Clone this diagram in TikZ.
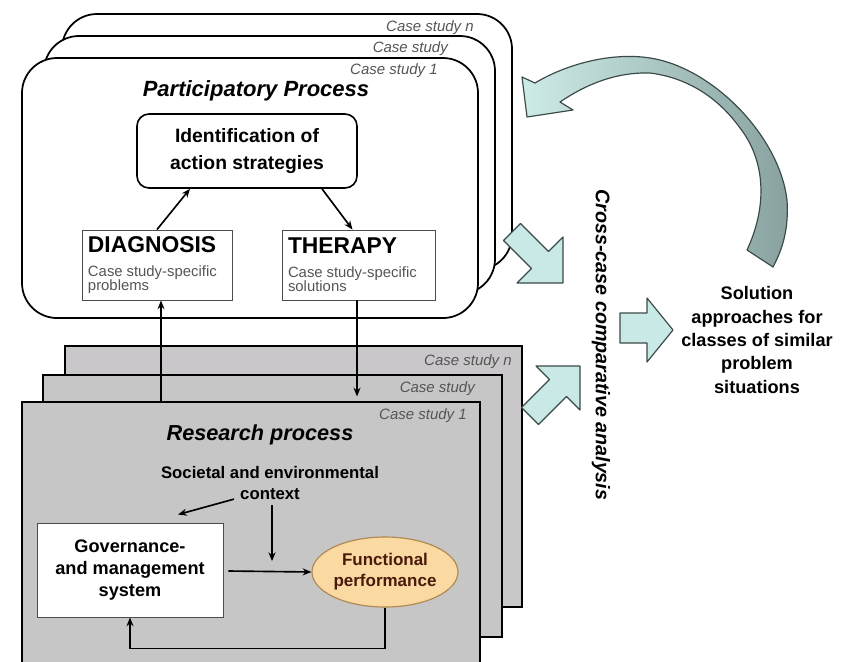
\documentclass[tikz,border=0pt]{standalone}
\usepackage{fontspec}
\setmainfont{Liberation Sans}
\usetikzlibrary{shapes.geometric,arrows.meta,calc}
\definecolor{fatfill}{HTML}{C8E9E5}
\definecolor{fatline}{HTML}{3A4A48}
\definecolor{cardgray}{HTML}{C6C6C6}
\definecolor{cardgrayb}{HTML}{C9C7C9}
\definecolor{labgray}{HTML}{555555}
\definecolor{ellfill}{HTML}{FAD9A2}
\definecolor{elldraw}{HTML}{B08A50}
\definecolor{elltext}{HTML}{4A1A0A}
\begin{document}
\begin{tikzpicture}[x=0.03cm,y=-0.03cm,
  pcard/.style={draw=black,line width=1.5pt,fill=white,rounded corners=1.05cm},
  rcard/.style={draw=black,line width=1.5pt,fill=cardgray},
  cslabel/.style={font=\itshape\fontsize{12.8}{14}\selectfont,text=labgray,anchor=east,inner sep=0pt},
  arr/.style={line width=1.4pt,-{Stealth[length=7.5pt,width=6pt]}},
  fat/.style={draw=fatline,line width=1pt,fill=fatfill,line join=round},
  boxtxt/.style={font=\bfseries\fontsize{15.5}{19}\selectfont,align=center}
]
\useasboundingbox (0,0) rectangle (843,661);

% participatory cards
\draw[pcard] (62,14) rectangle (512,270);
\node[cslabel] (pcn) at (474,28) {Case study \textit{n}};
\draw[pcard] (44,36) rectangle (495,294);
\node[cslabel] (pcm) at (448,49) {Case study};
\draw[pcard] (22,58) rectangle (478,318);
\node[cslabel] (pc1) at (438,71) {Case study 1};

\node[font=\bfseries\itshape\fontsize{18.8}{22}\selectfont] (ptitle) at (256,91) {Participatory Process};

\node[draw=black,line width=1.4pt,rounded corners=0.36cm,fill=white,
  minimum width=6.6cm,minimum height=2.22cm,
  font=\bfseries\fontsize{16.5}{23}\selectfont,align=center] (ident) at (247,151)
  {Identification of\\action strategies};

\node[draw=black!70,line width=0.8pt,fill=white,minimum height=2.1cm,
  text width=4.14cm,inner xsep=0.18cm,align=left] (diag) at (157,265)
  {{\bfseries\fontsize{19.5}{22}\selectfont DIAGNOSIS}\\[3pt]
   {\color{labgray}\fontsize{12.7}{17.5}\selectfont Case study-specific\\problems}};
\node[draw=black!70,line width=0.8pt,fill=white,minimum height=2.1cm,
  text width=4.23cm,inner xsep=0.18cm,align=left] (ther) at (358.5,265)
  {{\bfseries\fontsize{19.5}{22}\selectfont THERAPY}\\[3pt]
   {\color{labgray}\fontsize{12.7}{17.5}\selectfont Case study-specific\\solutions}};

\draw[arr] (diag.north) -- ($(ident.south)+(-57,0)$);
\draw[arr] ($(ident.south)+(75,0)$) -- ($(ther.north)+(-6,0)$);

% research cards
\draw[rcard,fill=cardgrayb] (65,346) rectangle (522,607);
\node[cslabel] (rcn) at (512,362) {Case study \textit{n}};
\draw[rcard] (43,375) rectangle (502,637);
\node[cslabel] (rcm) at (475,389) {Case study};
\draw[rcard] (22,402) rectangle (480,666);
\node[cslabel] (rc1) at (467,416) {Case study 1};
\coordinate (rtop) at (161,402);

\draw[arr] (rtop) -- (rtop |- diag.south);
\draw[arr] ($(ther.south)+(-1.5,0)$) -- ++(0,96);

\node[font=\bfseries\itshape\fontsize{18.5}{22}\selectfont] (rtitle) at (260,435) {Research process};

\node[font=\bfseries\fontsize{14.3}{18}\selectfont,align=center,inner sep=1pt] (ctx) at (270,483)
  {Societal and environmental\\context};

\node[draw=black!70,line width=0.8pt,fill=white,minimum width=5.58cm,minimum height=2.82cm,
  boxtxt] (gov) at (130,570) {Governance-\\and management\\system};

\node[ellipse,draw=elldraw,line width=1pt,fill=ellfill,minimum width=4.38cm,minimum height=2.1cm,
  font=\bfseries\fontsize{14.5}{18}\selectfont,text=elltext,align=center,inner sep=0pt] (fp) at (385,572)
  {Functional\\performance};

\draw[arr] ($(ctx.south)+(-36,-2)$) -- ($(gov.north)+(48,-8)$);
\draw[arr] ($(ctx.south)+(2,4)$) -- ++(0,56);
\draw[arr] ($(gov.east)+(5,1)$) -- (fp.west);
\draw[arr] (fp.south) -- ++(0,41) -| (gov.south);

% fat arrows
\draw[fat] (520.5,223.5) -- (548.5,251.5) -- (563,237) -- (563,283) -- (517,283) -- (531.5,268.5) -- (503.5,240.5) -- cycle;
\draw[fat] (521.5,407.5) -- (549.5,379.5) -- (536,366) -- (580,366) -- (580,410) -- (566.5,396.5) -- (538.5,424.5) -- cycle;
\draw[fat] (620,313) -- (647,313) -- (647,298) -- (673,330) -- (647,362) -- (647,343) -- (620,343) -- cycle;

% curved arrow
\draw[draw=fatline,line width=1pt,left color=fatfill!90!white,right color=fatline!45!fatfill,line join=round]
  (535,83) .. controls (570,62) and (620,50) .. (660,60)
  .. controls (720,75) and (780,140) .. (787,200)
  .. controls (789,230) and (782,250) .. (773,267)
  -- (747,250)
  .. controls (768,205) and (765,160) .. (740,128)
  .. controls (720,100) and (690,78) .. (650,73)
  .. controls (615,72) and (585,85) .. (560,102)
  -- (573,110) -- (527,117) -- (522,77) -- cycle;

\node[rotate=-90,font=\bfseries\itshape\fontsize{16.8}{19}\selectfont] (cca) at (601,345)
  {Cross-case comparative analysis};

\node[font=\bfseries\fontsize{15.5}{20}\selectfont,align=center] (sol) at (757,340)
  {Solution\\approaches for\\classes of similar\\problem\\situations};
\end{tikzpicture}
\end{document}
